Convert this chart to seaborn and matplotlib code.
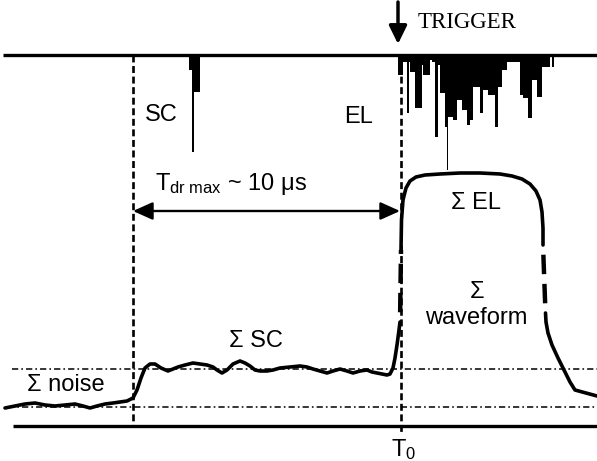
import matplotlib
matplotlib.use("Agg")
import matplotlib.pyplot as plt
import seaborn as sns
import pandas as pd

# ---------------------------------------------------------------
# Drawing coordinates (x to the right, y downward, canvas 597 x 461)
# ---------------------------------------------------------------

# Summed waveform: baseline noise, S1 (SC) step and the EL plateau
wave_base_x = [5, 15, 25, 35, 45, 55, 65, 75, 83, 90, 97, 105, 113, 120, 127, 133,
               137, 141, 145, 150, 155, 161, 168, 173, 178, 185, 193, 200, 207, 213,
               217, 222, 227, 233, 240, 245, 250, 255, 260, 267, 273, 280, 290, 300,
               307, 313, 320, 327, 333, 340, 347, 353, 360, 367, 372, 377, 382, 387,
               390, 393, 395, 397, 399, 400]
wave_base_y = [408, 406, 404, 403, 405, 406, 405, 404, 406, 408, 406, 404, 403, 402, 401, 398,
               390, 378, 368, 364, 364, 368, 371, 369, 367, 365, 363, 364, 365, 367,
               370, 373, 370, 364, 361, 363, 366, 370, 371, 371, 370, 368, 367, 366,
               367, 369, 371, 373, 371, 369, 371, 373, 371, 370, 372, 373, 374, 375,
               374, 368, 358, 345, 330, 322]
wave_rise_x = [400, 401]
wave_rise_y = [322, 250]
wave_top_x = [401, 401.5, 403, 406, 410, 416, 425, 440, 460, 480, 500, 512, 522,
              530, 536, 540, 542, 543, 543]
wave_top_y = [250, 220, 200, 188, 181, 177, 175, 174, 173, 173, 174, 176, 179,
              184, 191, 200, 212, 228, 245]
wave_fall_x = [543, 545.5]
wave_fall_y = [245, 313]
wave_tail_x = [545.5, 546, 548, 552, 558, 565, 570, 575, 586, 597]
wave_tail_y = [313, 322, 333, 345, 358, 372, 382, 390, 393, 396]

# Single-photon trace: SC burst and the EL pulse train (left edge, width, lower end)
sc_left = [188.5, 193.0, 191.5]
sc_width = [11.5, 7.0, 2.5]
sc_end = [70, 92, 152]

el_left = [398, 403, 407, 408.5, 410, 415, 422, 423, 430, 432, 435, 437.5, 440, 445,
           446.5, 448, 453, 457, 462, 467, 470, 473, 480, 483, 488, 495, 498, 502,
           507, 520, 523, 528, 532, 537, 542, 552]
el_width = [5, 4, 1.6, 2, 5, 7, 1.5, 7, 2, 3, 2.5, 2.5, 5, 3,
            1.3, 5, 4, 5, 5, 3, 3, 7, 3, 5, 7, 3, 4, 5,
            13, 3, 5, 4, 5, 5, 8, 1.5]
el_end = [75, 62, 113, 62, 72, 108, 65, 75, 60, 62, 137, 65, 93, 127,
          170, 117, 120, 100, 110, 125, 120, 87, 113, 90, 95, 127, 87, 70,
          62, 95, 98, 118, 80, 97, 67, 67]

trace_top = 55
trace_bottom = 426
noise_level = 407
sc_level = 369
drift_start = 133
trigger_time = 401

sns.set_theme(style="white")
plt.rcParams["font.family"] = ["Liberation Sans", "DejaVu Sans"]
plt.rcParams["mathtext.fontset"] = "custom"
plt.rcParams["mathtext.rm"] = "Liberation Sans"
plt.rcParams["mathtext.it"] = "Liberation Sans:italic"
plt.rcParams["lines.scale_dashes"] = False

fig = plt.figure(figsize=(5.97, 4.61), dpi=100)
ax = fig.add_axes([0, 0, 1, 1])
ax.set_xlim(0, 597)
ax.set_ylim(461, 0)
ax.axis("off")

# Frame lines of the trace window
ax.plot([3, 597], [trace_top, trace_top], color="black", lw=2.4, solid_capstyle="butt")
ax.plot([13, 597], [trace_bottom, trace_bottom], color="black", lw=2.4, solid_capstyle="butt")

# Noise and SC levels
dashdot = (0, (4.5, 2.2, 1.2, 2.2))
ax.plot([12, 597], [sc_level, sc_level], color="black", lw=1.1, linestyle=dashdot)
ax.plot([8, 597], [noise_level, noise_level], color="black", lw=1.1, linestyle=dashdot)

# Vertical markers: start of drift and trigger time
vdash = (0, (5, 2.6))
ax.plot([drift_start, drift_start], [trace_top, trace_bottom], color="black", lw=1.9,
        linestyle=vdash, dash_capstyle="butt")
ax.plot([trigger_time, trigger_time], [trace_top, 432], color="black", lw=1.9,
        linestyle=vdash, dash_capstyle="butt")

# Photon trace bars hanging from the top line
ax.bar(sc_left, [e - trace_top for e in sc_end], width=sc_width, bottom=trace_top,
       align="edge", color="black", linewidth=0)
ax.bar(el_left, [e - trace_top for e in el_end], width=el_width, bottom=trace_top,
       align="edge", color="black", linewidth=0)

# Summed waveform
solid_parts = [(wave_base_x, wave_base_y), (wave_top_x, wave_top_y), (wave_tail_x, wave_tail_y)]
for xs, ys in solid_parts:
    sns.lineplot(data=pd.DataFrame({"t": xs, "a": ys}), x="t", y="a", sort=False,
                 estimator=None, color="black", lw=2.6, ax=ax,
                 solid_joinstyle="round", solid_capstyle="round")
dashed_parts = [(wave_rise_x, wave_rise_y), (wave_fall_x, wave_fall_y)]
for xs, ys in dashed_parts:
    ax.plot(xs, ys, color="black", lw=3.2, linestyle=(14, (14, 7)),
            dash_capstyle="butt")
ax.set_xlim(0, 597)
ax.set_ylim(461, 0)
ax.set_xlabel("")
ax.set_ylabel("")

# Maximum drift time arrow
ax.annotate("", xy=(trigger_time - 1, 211), xytext=(drift_start, 211),
            arrowprops=dict(arrowstyle="<|-|>,head_length=0.6,head_width=0.27",
                            lw=1.7, color="black", mutation_scale=20,
                            shrinkA=0, shrinkB=0))

# Trigger arrow
ax.annotate("", xy=(398, 44), xytext=(398, 2),
            arrowprops=dict(arrowstyle="-|>,head_length=0.55,head_width=0.27",
                            lw=2.5, color="black", mutation_scale=20,
                            shrinkA=0, shrinkB=0))

fs = 17
ax.text(418, 23, "TRIGGER", fontsize=16.5, family=["Liberation Serif", "DejaVu Serif"],
        ha="left", va="center", color="black")
ax.text(161, 115, "SC", fontsize=fs, ha="center", va="center", color="black")
ax.text(359, 117, "EL", fontsize=fs, ha="center", va="center", color="black")
ax.text(155, 190, r"T$_{\mathrm{dr\ max}}$ ~ 10 μs", fontsize=fs, ha="left",
        va="baseline", color="black")
ax.text(476, 203, "Σ EL", fontsize=fs, ha="center", va="center", color="black")
ax.text(477, 292, "Σ", fontsize=fs, ha="center", va="center", color="black")
ax.text(476, 318, "waveform", fontsize=fs, ha="center", va="center", color="black")
ax.text(256, 341, "Σ SC", fontsize=fs, ha="center", va="center", color="black")
ax.text(66, 385, "Σ noise", fontsize=fs, ha="center", va="center", color="black")
ax.text(391, 456, r"T$_{\mathrm{0}}$", fontsize=fs, ha="left", va="baseline", color="black")

fig.savefig("out.png", dpi=100, facecolor="white")
